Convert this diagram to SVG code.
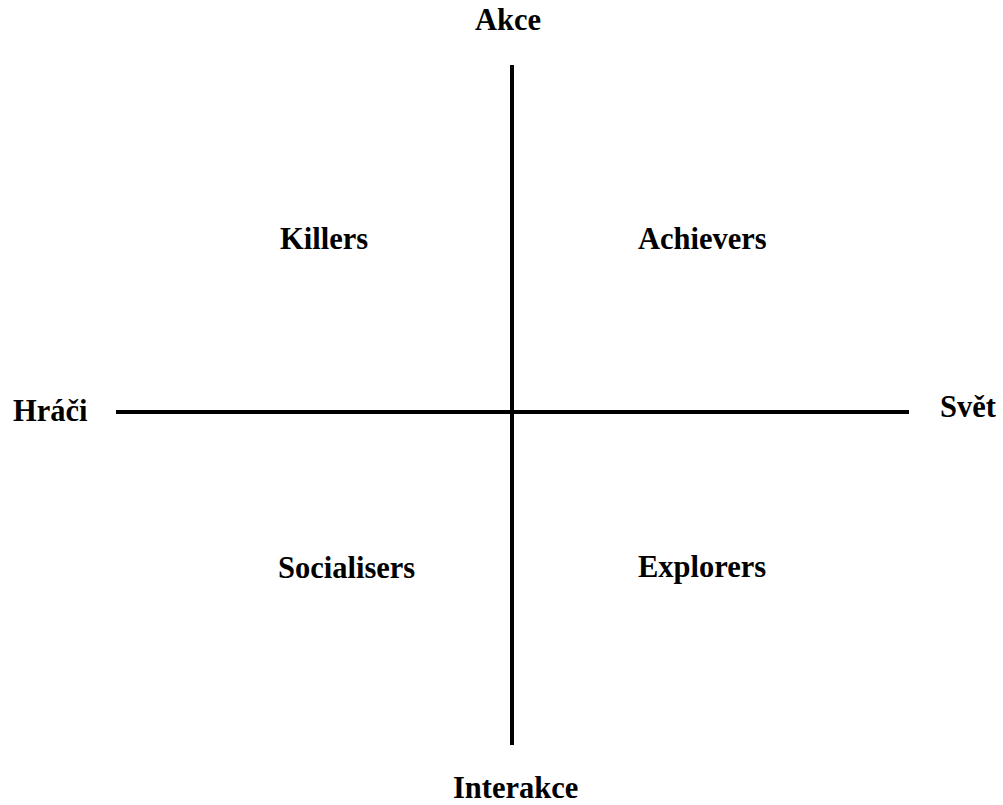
<svg xmlns="http://www.w3.org/2000/svg" width="1003" height="805" viewBox="0 0 1003 805">
  <style>
    .lbl { font-family: "Liberation Serif", "Times New Roman", serif; font-weight: bold; font-size: 30.5px; fill: #000; }
    .axis { stroke: #000; stroke-width: 4; fill: none; }
  </style>
  <rect width="1003" height="805" fill="#fff"/>
  <g id="connectors">
    <line class="axis" x1="512" y1="65" x2="512" y2="745"/>
    <line class="axis" x1="116" y1="412" x2="909" y2="412"/>
  </g>
  <g id="axis-top"><text class="lbl" x="475" y="30">Akce</text></g>
  <g id="axis-bottom"><text class="lbl" x="453" y="798">Interakce</text></g>
  <g id="axis-left"><text class="lbl" x="13" y="421">Hráči</text></g>
  <g id="axis-right"><text class="lbl" x="940" y="417">Svět</text></g>
  <g id="killers"><text class="lbl" x="280" y="249">Killers</text></g>
  <g id="achievers"><text class="lbl" x="638" y="249">Achievers</text></g>
  <g id="socialisers"><text class="lbl" x="278" y="578">Socialisers</text></g>
  <g id="explorers"><text class="lbl" x="638" y="577">Explorers</text></g>
</svg>
